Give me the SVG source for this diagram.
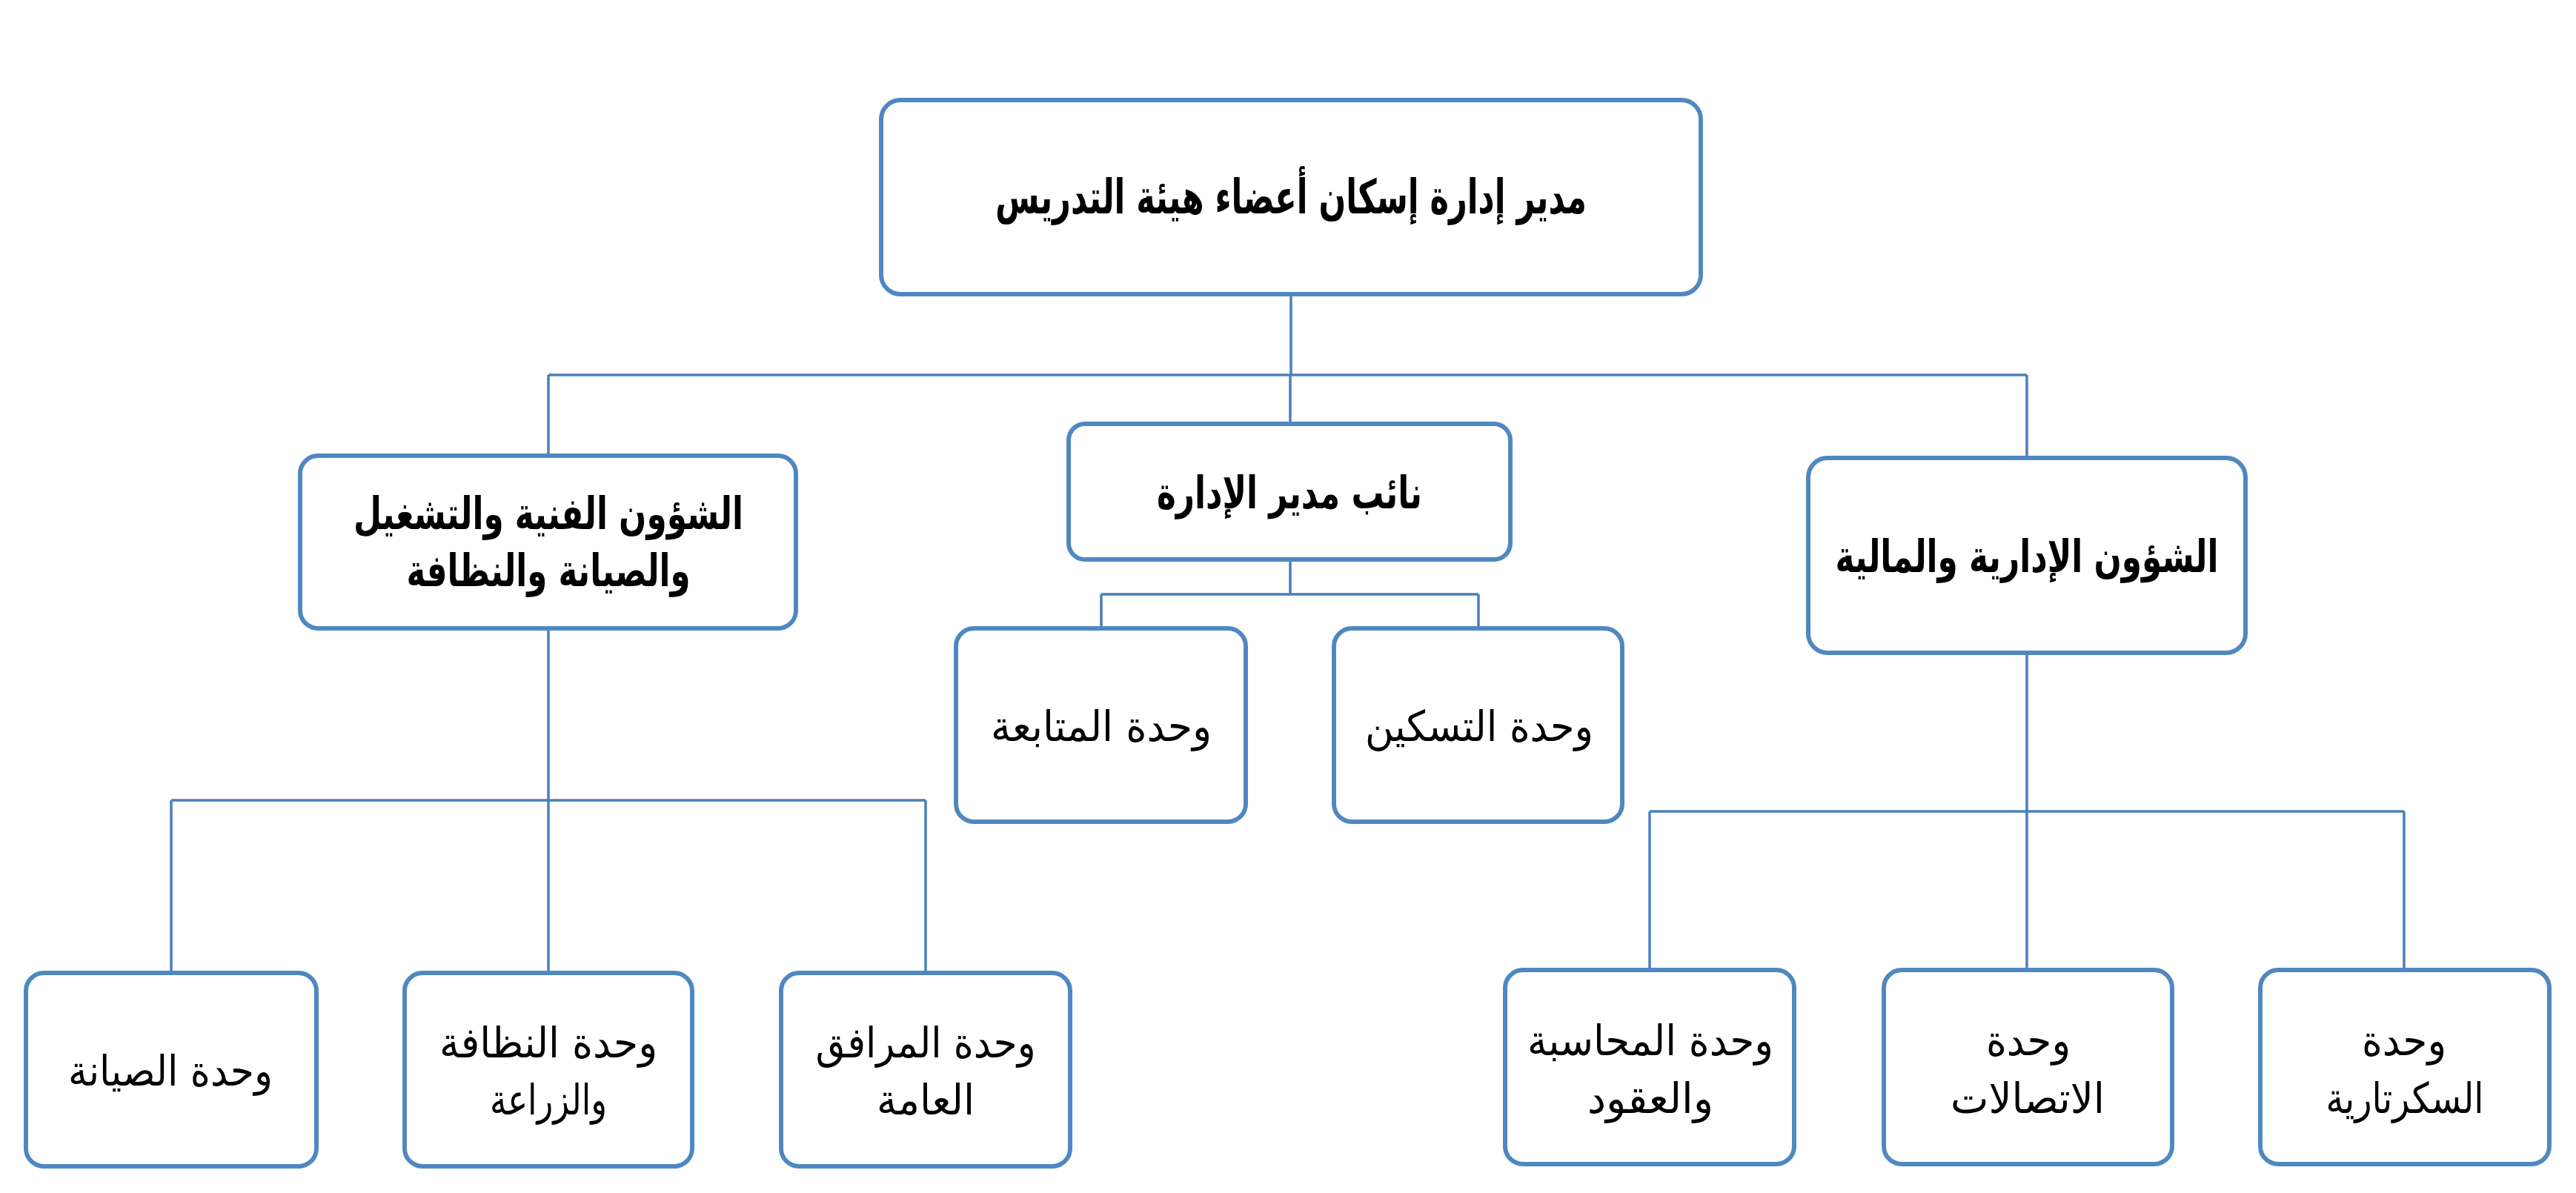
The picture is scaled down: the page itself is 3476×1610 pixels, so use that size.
<svg xmlns="http://www.w3.org/2000/svg" width="3476" height="1610" viewBox="0 0 3476 1610">
<style>
.box{fill:#fff;stroke:#4F88C0;stroke-width:6}
.ln{fill:none;stroke:#4A80BB;stroke-width:3.5}
text{font-family:"DejaVu Sans Condensed","DejaVu Sans",sans-serif;fill:#000;text-anchor:middle;direction:rtl}
.b{font-weight:bold}
.t0{font-size:64px}
.t1{font-size:60px}
.t2{font-size:57px}
</style>
<rect width="3476" height="1610" fill="#fff"/>
<g id="connectors">
<path class="ln" d="M1742 397V506M740 506H2735M740 506V615M1741 506V572M2735 506V618"/>
<path class="ln" d="M740 848V1080M231 1080H1249M231 1080V1313M740 1080V1313M1249 1080V1313"/>
<path class="ln" d="M1741 755V802M1486 802H1995M1486 802V848M1995 802V848"/>
<path class="ln" d="M2735 882V1095M2226 1095H3244M2226 1095V1309M2735 1095V1309M3244 1095V1309"/>
</g>
<g id="n-director"><rect class="box" x="1189" y="135" width="1106" height="262" rx="26"/><text class="b t0" x="1742" y="288" textLength="798" lengthAdjust="spacingAndGlyphs">مدير إدارة إسكان أعضاء هيئة التدريس</text></g>
<g id="n-technical"><rect class="box" x="405" y="615" width="669" height="233" rx="24"/><text class="b t1" x="740" y="714" textLength="526" lengthAdjust="spacingAndGlyphs">الشؤون الفنية والتشغيل</text><text class="b t1" x="740" y="791" textLength="383" lengthAdjust="spacingAndGlyphs">والصيانة والنظافة</text></g>
<g id="n-deputy"><rect class="box" x="1442" y="572" width="596" height="183" rx="22"/><text class="b t1" x="1740" y="686" textLength="358" lengthAdjust="spacingAndGlyphs">نائب مدير الإدارة</text></g>
<g id="n-admin"><rect class="box" x="2440" y="618" width="590" height="263" rx="26"/><text class="b t1" x="2735" y="772" textLength="517" lengthAdjust="spacingAndGlyphs">الشؤون الإدارية والمالية</text></g>
<g id="n-followup"><rect class="box" x="1290" y="848" width="391" height="261" rx="24"/><text class="t2" x="1486" y="1000" textLength="298" lengthAdjust="spacingAndGlyphs">وحدة المتابعة</text></g>
<g id="n-housing"><rect class="box" x="1800" y="848" width="389" height="261" rx="24"/><text class="t2" x="1996" y="1000" textLength="308" lengthAdjust="spacingAndGlyphs">وحدة التسكين</text></g>
<g id="n-maint"><rect class="box" x="35" y="1313" width="392" height="261" rx="24"/><text class="t2" x="230" y="1465" textLength="276" lengthAdjust="spacingAndGlyphs">وحدة الصيانة</text></g>
<g id="n-clean"><rect class="box" x="546" y="1313" width="388" height="261" rx="24"/><text class="t2" x="740" y="1427" textLength="294" lengthAdjust="spacingAndGlyphs">وحدة النظافة</text><text class="t2" x="740" y="1504" textLength="158" lengthAdjust="spacingAndGlyphs">والزراعة</text></g>
<g id="n-facilities"><rect class="box" x="1054" y="1313" width="390" height="261" rx="24"/><text class="t2" x="1249" y="1427" textLength="297" lengthAdjust="spacingAndGlyphs">وحدة المرافق</text><text class="t2" x="1249" y="1504" textLength="132" lengthAdjust="spacingAndGlyphs">العامة</text></g>
<g id="n-accounting"><rect class="box" x="2031" y="1309" width="390" height="262" rx="24"/><text class="t2" x="2227" y="1424" textLength="332" lengthAdjust="spacingAndGlyphs">وحدة المحاسبة</text><text class="t2" x="2227" y="1502" textLength="170" lengthAdjust="spacingAndGlyphs">والعقود</text></g>
<g id="n-comms"><rect class="box" x="2542" y="1309" width="389" height="262" rx="24"/><text class="t2" x="2737" y="1424" textLength="114" lengthAdjust="spacingAndGlyphs">وحدة</text><text class="t2" x="2736" y="1502" textLength="208" lengthAdjust="spacingAndGlyphs">الاتصالات</text></g>
<g id="n-secretary"><rect class="box" x="3050" y="1309" width="390" height="262" rx="24"/><text class="t2" x="3244" y="1424" textLength="114" lengthAdjust="spacingAndGlyphs">وحدة</text><text class="t2" x="3245" y="1502" textLength="213" lengthAdjust="spacingAndGlyphs">السكرتارية</text></g>
</svg>
